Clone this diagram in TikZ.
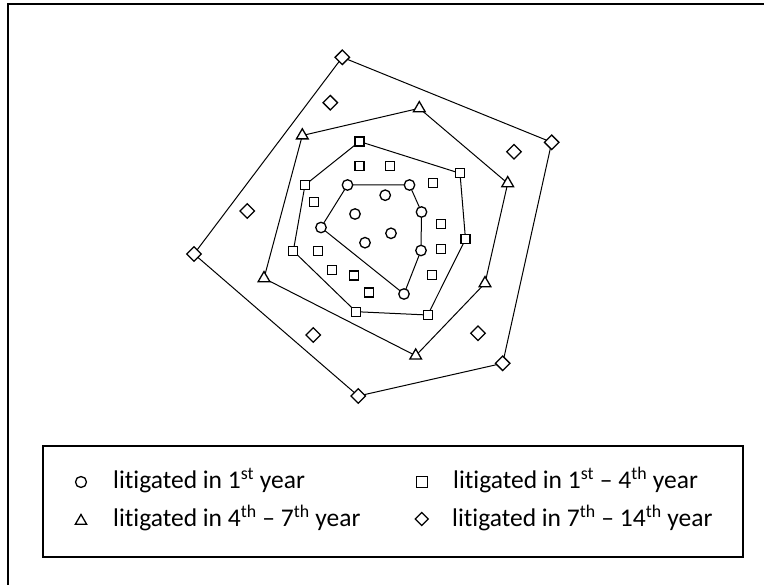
\documentclass[tikz,border=0pt]{standalone}
\usepackage{fontspec}
\setmainfont{Carlito}[Ligatures=CommonOff]
\usetikzlibrary{shapes.geometric}
\begin{document}
\begin{tikzpicture}[x=1pt,y=-1pt,
  mk/.style={draw=black, fill=white, line width=1.3pt, inner sep=0pt, outer sep=0pt},
  circ/.style={mk, circle, minimum size=10.5pt},
  sq/.style={mk, rectangle, minimum size=9pt},
  tri/.style={mk, regular polygon, regular polygon sides=3, minimum size=13.5pt},
  dia/.style={mk, diamond, minimum size=14.5pt},
  hull/.style={line width=1pt},
  outerframe/.style={line width=2pt},
  lab/.style={anchor=base west, inner sep=0pt, font=\fontsize{25.5}{30}\selectfont}
]
\fill[white] (0,0) rectangle (764,585);
\useasboundingbox (0,0) rectangle (764,585);
\draw[outerframe] (8.3,600) -- (8.3,4.5) -- (780,4.5);

% diamonds
\node[dia] (d1) at (342.3,57.3) {};
\node[dia] (d2) at (551.7,142.3) {};
\node[dia] (d3) at (502.7,363.3) {};
\node[dia] (d4) at (358.3,396) {};
\node[dia] (d5) at (194,254) {};
\node[dia] (d6) at (330.3,102.7) {};
\node[dia] (d7) at (514,151.7) {};
\node[dia] (d8) at (247.3,211) {};
\node[dia] (d9) at (313.3,335) {};
\node[dia] (d10) at (478,333.3) {};
% triangles
\node[tri] (t1) at (302.3,135.5) {};
\node[tri] (t2) at (419.3,108.3) {};
\node[tri] (t3) at (507.7,183.3) {};
\node[tri] (t4) at (485,283.3) {};
\node[tri] (t5) at (415.7,355.7) {};
\node[tri] (t6) at (264,278.3) {};
% squares
\node[sq] (s1) at (359.5,141.5) {};
\node[sq] (s2) at (460,173.3) {};
\node[sq] (s3) at (465.5,239.3) {};
\node[sq] (s4) at (427.7,315) {};
\node[sq] (s5) at (356,311.7) {};
\node[sq] (s6) at (293.3,251) {};
\node[sq] (s7) at (305,185) {};
\node[sq] (s8) at (359.5,166) {};
\node[sq] (s9) at (390,166) {};
\node[sq] (s10) at (433.3,182.7) {};
\node[sq] (s11) at (314.3,202) {};
\node[sq] (s12) at (441,224.3) {};
\node[sq] (s13) at (441,249.3) {};
\node[sq] (s14) at (318.3,251) {};
\node[sq] (s15) at (331.7,270) {};
\node[sq] (s16) at (354,275.5) {};
\node[sq] (s17) at (431.7,275.3) {};
\node[sq] (s18) at (369.3,292.5) {};
% circles
\node[circ] (c1) at (347.5,185) {};
\node[circ] (c2) at (409.5,185) {};
\node[circ] (c3) at (421.5,212) {};
\node[circ] (c4) at (421,250.5) {};
\node[circ] (c5) at (404,294) {};
\node[circ] (c6) at (321,227.5) {};
\node[circ] (c7) at (385.2,195.2) {};
\node[circ] (c8) at (355,214) {};
\node[circ] (c9) at (391,233.3) {};
\node[circ] (c10) at (365,242.7) {};

% hulls
\draw[hull] (d1) -- (d2) -- (d3) -- (d4) -- (d5) -- (d1);
\draw[hull] (t1) -- (t2) -- (t3) -- (t4) -- (t5) -- (t6) -- (t1);
\draw[hull] (s1) -- (s2) -- (s3) -- (s4) -- (s5) -- (s6) -- (s7) -- (s1);
\draw[hull] (c1) -- (c2) -- (c3) -- (c4) -- (c5) -- (c6) -- (c1);

% legend
\node[draw, line width=2pt, minimum width=700.6pt, minimum height=111.6pt, inner sep=0pt, outer sep=0pt] (legendbox) at (393,501.5) {};
\node[circ, minimum size=11pt] (lc) at (81,482) {};
\node[tri, minimum size=13pt] (lt) at (81,521) {};
\node[sq, minimum size=11pt] (ls) at (421.7,482) {};
\node[dia, minimum size=13pt] (ld) at (421.7,519) {};
\node[lab] (l1) at (113,489) {litigated in 1\textsuperscript{st} year};
\node[lab] (l2) at (113,527) {litigated in 4\textsuperscript{th} – 7\textsuperscript{th} year};
\node[lab] (l3) at (453,489) {litigated in 1\textsuperscript{st} – 4\textsuperscript{th} year};
\node[lab] (l4) at (452,527) {litigated in 7\textsuperscript{th} – 14\textsuperscript{th} year};
\end{tikzpicture}
\end{document}
